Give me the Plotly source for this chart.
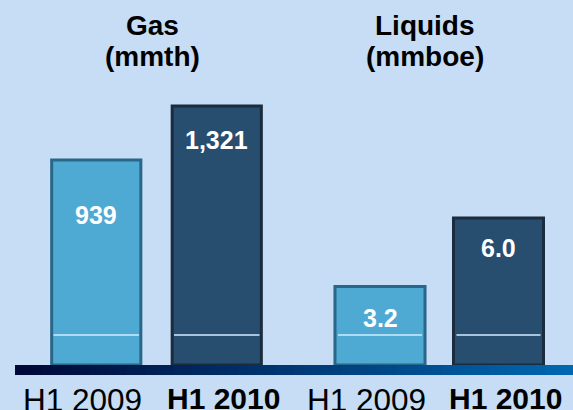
import plotly.graph_objects as go
from plotly.subplots import make_subplots

periodos = ['H1 2009', 'H1 2010']
gas = [939, 1321]
liquidos = [3.2, 6.0]
rotulos_gas = ['939', '1,321']
rotulos_liq = ['3.2', '6.0']
titulos = [['Gas', '(mmth)'], ['Liquids', '(mmboe)']]

W, H = 573, 410
base_px = 365          # pixel row of the baseline
fundo = '#c6ddf5'
cores = ['#4ea9d3', '#284e6f']
bordas = ['#2a6687', '#1b2c3f']

# gas axis is not zero based in the original slide
gas_base = -511
gas_top = 2070
liq_top = 14.9

fig = make_subplots(rows=1, cols=2)
fig.add_trace(go.Bar(x=[0, 1], y=[v - gas_base for v in gas], base=gas_base, width=0.74,
                     marker_color=cores, marker_line_color=bordas, marker_line_width=3),
              row=1, col=1)
fig.add_trace(go.Bar(x=[0, 1], y=liquidos, width=0.76,
                     marker_color=cores, marker_line_color=bordas, marker_line_width=3),
              row=1, col=2)

ydom = [(H - base_px) / H, 1]
fig.update_layout(
    width=W, height=H, margin=dict(l=0, r=0, t=0, b=0),
    paper_bgcolor=fundo, plot_bgcolor=fundo, showlegend=False,
    font=dict(family='Liberation Sans, Arial, sans-serif'),
    xaxis=dict(domain=[36 / W, 277 / W], range=[-0.5, 1.5], visible=False),
    xaxis2=dict(domain=[320.75 / W, 557.75 / W], range=[-0.5, 1.5], visible=False),
    yaxis=dict(domain=ydom, range=[gas_base, gas_top], visible=False),
    yaxis2=dict(domain=ydom, range=[0, liq_top], visible=False),
)

# value labels inside bars
desloc = [[-55, -34], [-31, -30]]
for k, (vals, rots, ax) in enumerate([(gas, rotulos_gas, ''), (liquidos, rotulos_liq, '2')]):
    for i, (v, r) in enumerate(zip(vals, rots)):
        fig.add_annotation(x=i, y=v, xref='x' + ax, yref='y' + ax, text='<b>' + r + '</b>',
                           showarrow=False, yshift=desloc[k][i], yanchor='middle', xanchor='center',
                           font=dict(size=25, color='white'))
    # category labels under the baseline
    for i, p in enumerate(periodos):
        txt = '<b>' + p + '</b>' if i == 1 else p
        fig.add_annotation(x=i, y=(H - 380) / H, xref='x' + ax, yref='paper', text=txt,
                           showarrow=False, xshift=[-14, 7][i], yanchor='top', xanchor='center',
                           font=dict(size=[31.5, 30][i], color='black'))

# group titles
for cx, (l1, l2) in zip([152, 425], titulos):
    for cy, t in [(25, l1), (56, l2)]:
        fig.add_annotation(x=cx / W, y=1 - cy / H, xref='paper', yref='paper', text='<b>' + t + '</b>',
                           showarrow=False, yanchor='middle', xanchor='center',
                           font=dict(size=28, color='black'))

# thin highlight line near the bottom of each bar
for ax, esc_base, esc in [('', gas_base, (gas_top - gas_base) / base_px),
                          ('2', 0, liq_top / base_px)]:
    yl = esc_base + 30 * esc
    for i in range(2):
        fig.add_shape(type='line', xref='x' + ax, yref='y' + ax, x0=i - 0.355, x1=i + 0.355,
                      y0=yl, y1=yl, line=dict(color='#d2ecff', width=1.5), layer='above')

# gradient baseline
n = 60
c0, c1 = (0, 8, 56), (0, 104, 176)
x0, x1 = 15, W
for j in range(n):
    t = j / (n - 1)
    cor = 'rgb(%d,%d,%d)' % tuple(round(a + (b - a) * t) for a, b in zip(c0, c1))
    fig.add_shape(type='rect', xref='paper', yref='paper',
                  x0=(x0 + (x1 - x0) * j / n) / W, x1=(x0 + (x1 - x0) * (j + 1) / n + 1.5) / W,
                  y0=(H - 375) / H, y1=(H - base_px) / H,
                  fillcolor=cor, line_width=0, layer='above')

fig.write_html('out.html', config={'displayModeBar': False},
               post_script="document.body.style.margin='0';")
